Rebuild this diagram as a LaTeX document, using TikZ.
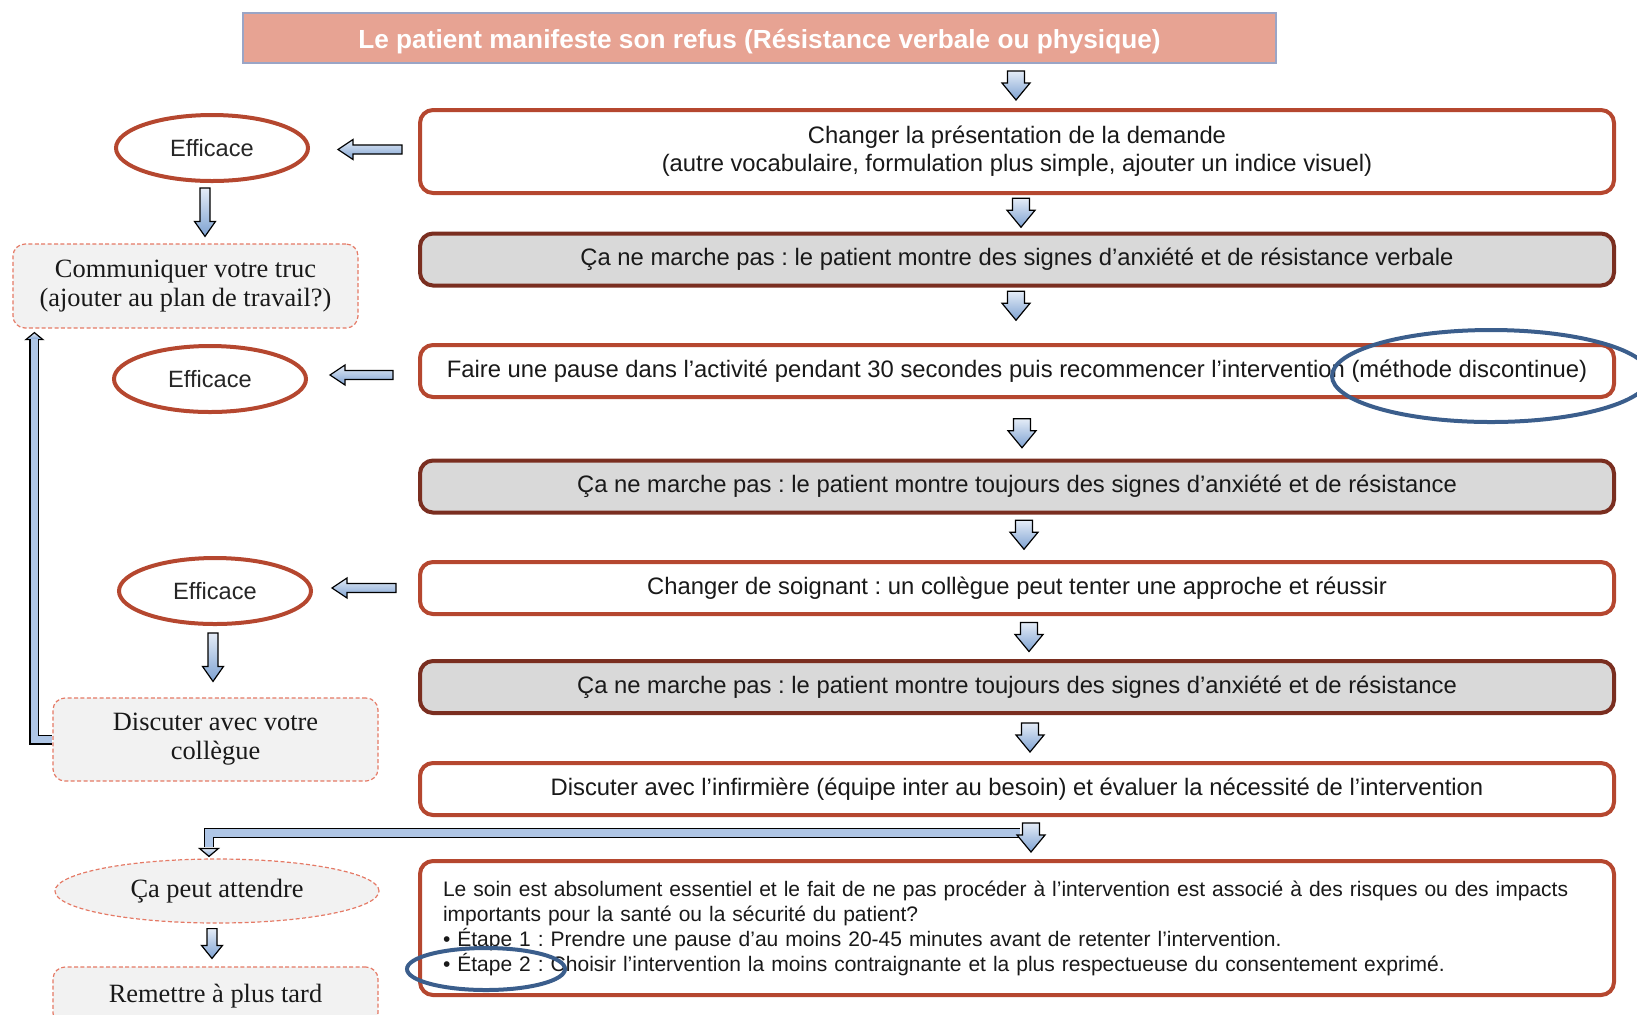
\documentclass[tikz,border=0pt]{standalone}
\usepackage{fontspec}
\setsansfont{Liberation Sans}
\setmainfont{Liberation Serif}
\usetikzlibrary{calc,shapes.geometric}
\definecolor{boxred}{HTML}{B5472F}
\definecolor{boxdark}{HTML}{7A2E20}
\definecolor{greyfill}{HTML}{D9D9D9}
\definecolor{titlefill}{HTML}{E7A393}
\definecolor{titleline}{HTML}{9AA5C6}
\definecolor{dashred}{HTML}{E57A66}
\definecolor{softgrey}{HTML}{F2F2F2}
\definecolor{ringblue}{HTML}{3B5E8C}
\definecolor{arrtop}{HTML}{E4ECF7}
\definecolor{arrbot}{HTML}{7EA2D2}
\definecolor{arrmid}{HTML}{AFC6E6}
\frenchspacing
% block arrow: from, to, shaft half width, head half width, head length
\newcommand{\barr}[5]{%
  \coordinate (bh) at ($(#2)!#5!(#1)$);
  \path[barr] ($(#1)!#3!-90:(#2)$) -- ($(bh)!#3!90:(#1)$) -- ($(bh)!#4!90:(#1)$) -- (#2)
    -- ($(bh)!#4!-90:(#1)$) -- ($(bh)!#3!-90:(#1)$) -- ($(#1)!#3!90:(#2)$) -- cycle;}
\tikzset{
  titlebox/.style={fill=titlefill,draw=titleline,line width=1pt,minimum width=516.5pt,minimum height=25pt,inner sep=0pt,text=white,font=\sffamily\bfseries\fontsize{13.1}{15}\selectfont},
  rb/.style={draw=boxred,line width=2pt,rounded corners=6.5pt,fill=white,minimum width=597pt,minimum height=26pt,inner sep=0pt,align=center,text=black!90,font=\sffamily\fontsize{11.9}{14}\selectfont},
  gb/.style={rb,draw=boxdark,fill=greyfill},
  eff/.style={ellipse,draw=boxred,line width=2pt,minimum width=96pt,minimum height=33pt,inner sep=0pt,text=black!85,font=\sffamily\fontsize{11.8}{14}\selectfont},
  soft/.style={draw=dashred,dash pattern=on 2pt off 1.2pt,line width=0.6pt,fill=softgrey,rounded corners=6pt,inner sep=0pt,align=center,text=black!90,font=\rmfamily\fontsize{13.2}{14.5}\selectfont},
  ring/.style={ellipse,draw=ringblue,line width=2pt,inner sep=0pt},
  barr/.style={draw=black,line width=0.6pt,top color=arrtop,bottom color=arrbot},
  shaft/.style={draw=black,line width=0.6pt,double=arrmid,double distance=3.8pt},
}
\begin{document}
\begin{tikzpicture}[x=0.5pt,y=-0.5pt]
\useasboundingbox (0,0) rectangle (1637,1014);
\clip (0,0) rectangle (1637,1014);
\node[titlebox] (ttl) at (759.5,38) {\raisebox{-5pt}[0pt][0pt]{Le patient manifeste son refus (Résistance verbale ou physique)}};
% right column
\node[rb,minimum height=41.5pt] (b1) at (1017,151.5) {Changer la présentation de la demande\\(autre vocabulaire, formulation plus simple, ajouter un indice visuel)};
\node[gb] (b2) at (1017,259.5) {Ça ne marche pas : le patient montre des signes d’anxiété et de résistance verbale};
\node[rb] (b3) at (1017,371) {Faire une pause dans l’activité pendant 30 secondes puis recommencer l’intervention (méthode discontinue)};
\node[gb] (b4) at (1017,486.5) {Ça ne marche pas : le patient montre toujours des signes d’anxiété et de résistance};
\node[rb] (b5) at (1017,588) {Changer de soignant : un collègue peut tenter une approche et réussir};
\node[gb] (b6) at (1017,687) {Ça ne marche pas : le patient montre toujours des signes d’anxiété et de résistance};
\node[rb] (b7) at (1017,789) {Discuter avec l’infirmière (équipe inter au besoin) et évaluer la nécessité de l’intervention};
\node[rb,minimum height=67pt,text width=574pt,align=left,font=\sffamily\fontsize{10.5}{12.5}\selectfont] (b8) at (1017,928)
  {\hyphenpenalty10000\relax Le soin est absolument essentiel et le fait de ne pas procéder à l’intervention est associé à des risques ou des impacts\\
   importants pour la santé ou la sécurité du patient?\\
   • Étape 1 : Prendre une pause d’au moins 20-45 minutes avant de retenter l’intervention.\\
   • Étape 2 : Choisir l’intervention la moins contraignante et la plus respectueuse du consentement exprimé.};
% left column
\node[eff] (e1) at (212,148) {Efficace};
\node[eff] (e2) at (210,379) {Efficace};
\node[eff] (e3) at (215,591) {Efficace};
\node[soft,minimum width=172.5pt,minimum height=42pt] (comm) at (185.5,286) {Communiquer votre truc\\(ajouter au plan de travail?)};
\node[soft,minimum width=162.5pt,minimum height=41.5pt] (disc) at (215.5,739.5) {Discuter avec votre\\collègue};
\node[soft,ellipse,minimum width=162pt,minimum height=32pt] (wait) at (217,891) {Ça peut attendre};
\node[soft,minimum width=162.5pt,minimum height=29pt] (later) at (215.5,996) {Remettre à plus tard};
% elbow arrows
\coordinate (k1) at ($(disc.west)+(-18,0)$);
\coordinate (k2) at ($(k1 |- comm.south)+(0,4)$);
\coordinate (k3) at ($(k2)+(0,7)$);
\path[barr] ($(k3)+(-8.5,0)$) -- (k2) -- ($(k3)+(8.5,0)$) -- cycle;
\draw[shaft] (disc.west) -- (k1) -- ($(k3)+(0,-1)$);
\coordinate (q0) at ($(b7.south)!0.5!(b8.north)+(3,-5)$);
\coordinate (q1) at ($(q0 -| wait.north)+(-8,0)$);
\coordinate (q2) at ($(q1 |- wait.north)+(0,-2)$);
\coordinate (q3) at ($(q2)+(0,-8)$);
\path[barr] ($(q3)+(-9.5,0)$) -- (q2) -- ($(q3)+(9.5,0)$) -- cycle;
\draw[shaft] (q0) -- (q1) -- ($(q3)+(0,-1)$);
% down arrows, right column
\foreach \a/\b/\dx/\dy in {ttl/b1/-1/0,b1/b2/4/0,b2/b3/-1/-9,b3/b4/5/5,b4/b5/7/-2,b5/b6/12/0,b6/b7/13/0,b7/b8/14/0}{
  \coordinate (m) at ($(\a.south -| b1.north)!0.5!(\b.north)$);
  \coordinate (m1) at ($(m)+(\dx,\dy-15)$);
  \coordinate (m2) at ($(m)+(\dx,\dy+14)$);
  \barr{m1}{m2}{4.25pt}{7pt}{8.5pt}
}
% arrows to the left
\coordinate (h1) at ($(b1.west)+(-16,-2)$); \coordinate (h2) at ($(h1 -| e1.east)+(28,0)$);
\barr{h1}{h2}{2.25pt}{5pt}{7.5pt}
\coordinate (h3) at ($(b3.west)+(-25,4)$); \coordinate (h4) at ($(h3 -| e2.east)+(22,0)$);
\barr{h3}{h4}{2.25pt}{5pt}{7.5pt}
\coordinate (h5) at ($(b5.west)+(-22,0)$); \coordinate (h6) at ($(h5 -| e3.east)+(19,0)$);
\barr{h5}{h6}{2.25pt}{5pt}{7.5pt}
% arrows down, left column
\coordinate (v1) at ($(e1.south)+(-7,5)$); \coordinate (v2) at ($(v1 |- comm.north)+(0,-7)$);
\barr{v1}{v2}{2.5pt}{5.25pt}{7.5pt}
\coordinate (v3) at ($(e3.south)+(-2,7)$); \coordinate (v4) at ($(v3 |- disc.north)+(0,-16)$);
\barr{v3}{v4}{2.5pt}{5.25pt}{7.5pt}
\coordinate (v5) at ($(wait.south)+(-5,5)$); \coordinate (v6) at ($(v5 |- later.north)+(0,-8)$);
\barr{v5}{v6}{2.5pt}{5.25pt}{6.5pt}
% blue rings
\node[ring,minimum width=159pt,minimum height=46pt] (r1) at (1491,376) {};
\node[ring,minimum width=79pt,minimum height=21pt] (r2) at (486,969) {};
\end{tikzpicture}
\end{document}
